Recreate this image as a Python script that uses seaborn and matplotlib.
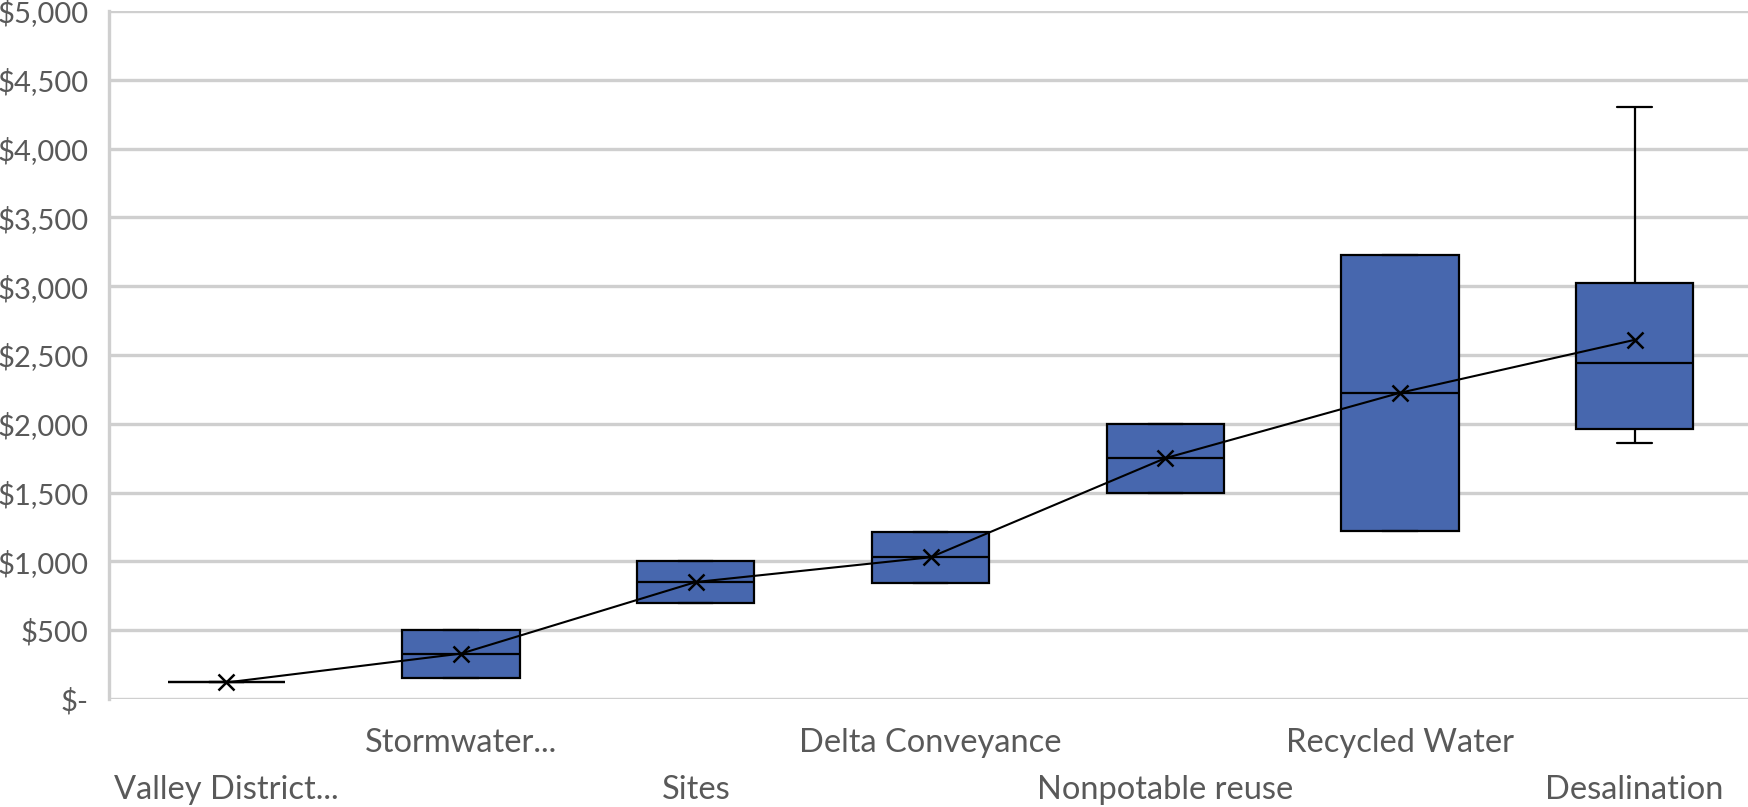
import numpy as np
import pandas as pd
import seaborn as sns
import matplotlib.pyplot as plt
from matplotlib.ticker import FuncFormatter

# values (dollars)
categories = ["Valley District...", "Stormwater...", "Sites", "Delta Conveyance",
              "Nonpotable reuse", "Recycled Water", "Desalination"]
low    = [120, 150, 700, 840, 1500, 1220, 1860]
q1     = [120, 150, 700, 840, 1500, 1220, 1965]
median = [120, 330, 850, 1030, 1750, 2225, 2440]
q3     = [120, 500, 1000, 1215, 2000, 3225, 3025]
high   = [120, 500, 1000, 1215, 2000, 3225, 4300]
means  = [120, 330, 850, 1030, 1750, 2225, 2610]

BOX_BLUE = "#4767AE"
GRID = "#CFCFCF"
TEXT = "#595959"

rows = []
for i, c in enumerate(categories):
    for v in (low[i], q1[i], median[i], q3[i], high[i]):
        rows.append(dict(Category=c, Cost=v))
data = pd.DataFrame(rows)
mean_df = pd.DataFrame(dict(Category=categories, Cost=means))

sns.set_style("white")
plt.rcParams['font.family'] = ['Lato', 'DejaVu Sans']

fig = plt.figure(figsize=(17.48, 8.07), dpi=100)
# plot area runs a little past the right edge, as in the cropped original
ax = fig.add_axes([109 / 1748, 1 - 699 / 807, 1643 / 1748, 688 / 807])

sns.boxplot(data=data, x="Category", y="Cost", order=categories, ax=ax,
            width=0.5, whis=(0, 100), color=BOX_BLUE, saturation=1,
            linecolor="black", linewidth=1.6, showfliers=False,
            capwidths=0.15)
sns.pointplot(data=mean_df, x="Category", y="Cost", order=categories, ax=ax,
              color="black", markers="x", markersize=11, linewidth=1.5,
              markeredgewidth=1.8, errorbar=None)

ax.set_ylim(0, 5000)
ax.set_xlim(-0.5, 6.5)
ax.set_yticks(np.arange(0, 5001, 500))
ax.yaxis.set_major_formatter(FuncFormatter(lambda v, p: "$-" if v == 0 else f"${v:,.0f}"))
ax.yaxis.grid(True, color=GRID, linewidth=2.4)
ax.set_axisbelow(True)
for s in ["top", "right", "bottom"]:
    ax.spines[s].set_visible(False)
ax.spines["left"].set_color(GRID)
ax.spines["left"].set_linewidth(2.4)
ax.tick_params(axis="both", length=0, colors=TEXT)
ax.tick_params(axis="y", labelsize=21, pad=15)
ax.tick_params(axis="x", labelsize=23.5)
ax.set_xlabel("")
ax.set_ylabel("")

# staggered category labels like the spreadsheet chart
for i, tick in enumerate(ax.xaxis.get_major_ticks()):
    tick.set_pad(21 if i % 2 else 55)

fig.savefig("out.png", dpi=100)
